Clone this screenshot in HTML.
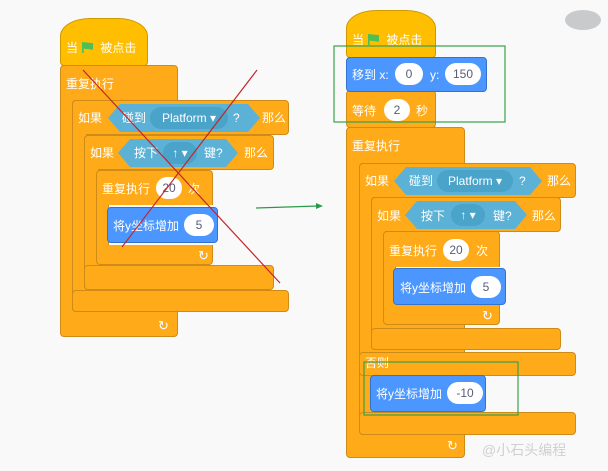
<!DOCTYPE html>
<html><head><meta charset="utf-8"><style>
*{margin:0;padding:0;box-sizing:border-box}
body{width:608px;height:471px;overflow:hidden;background:#f9f9f9;position:relative;font-family:"Liberation Sans","Noto Sans CJK SC",sans-serif;}
.o{position:absolute;background:#FFAB19;border:1px solid #CF8B17;border-radius:4px}
.b{position:absolute;background:#4C97FF;border:1px solid #3373CC;border-radius:4px}
.t{position:absolute;color:#fff;font-size:12px;white-space:nowrap;line-height:14px}
.pill{position:absolute;background:#fff;border-radius:12px;color:#575e75;font-size:12px;text-align:center;line-height:22px;height:22px}
.hex{position:absolute;background:#5CB1D6;clip-path:polygon(12px 0,calc(100% - 12px) 0,100% 50%,calc(100% - 12px) 100%,12px 100%,0 50%)}
.dd{position:absolute;background:#4aa3c9;border-radius:12px;color:#fff;font-size:12px;line-height:22px;height:22px;text-align:center}
.hat{position:absolute;background:#FFBF00;border:1px solid #CC9900;border-radius:30px 30px 4px 4px / 18px 18px 4px 4px}
.flag{display:inline-block;width:11px;height:11px;background:#4CBF56;vertical-align:-1px;margin:0 4px;clip-path:polygon(0 0,100% 10%,100% 70%,15% 60%,15% 100%,0 100%)}
.arr{position:absolute;color:#fff;font-size:13px}
</style></head><body>

<!-- LEFT SCRIPT -->
<div class="hat" style="left:60px;top:18px;width:88px;height:48px"></div>
<div class="t" style="left:66px;top:41px">当<span class="flag"></span> 被点击</div>
<div class="o" style="left:60px;top:65px;width:118px;height:272px"></div>
<div class="t" style="left:66px;top:77px">重复执行</div>
<div class="o" style="left:72px;top:100px;width:217px;height:35px"></div>
<div class="o" style="left:72px;top:100px;width:14px;height:212px;border-right:none;border-radius:4px 0 0 4px"></div>
<div class="o" style="left:72px;top:290px;width:217px;height:22px"></div>
<div class="t" style="left:78px;top:111px">如果</div>
<div class="hex" style="left:108px;top:104px;width:152px;height:28px"></div>
<div class="t" style="left:122px;top:111px">碰到</div>
<div class="dd" style="left:150px;top:107px;width:78px">Platform ▾</div>
<div class="t" style="left:233px;top:111px">?</div>
<div class="t" style="left:262px;top:111px">那么</div>
<div class="o" style="left:84px;top:135px;width:190px;height:35px"></div>
<div class="o" style="left:84px;top:135px;width:14px;height:155px;border-right:none;border-radius:4px 0 0 4px"></div>
<div class="o" style="left:84px;top:265px;width:190px;height:25px"></div>
<div class="t" style="left:90px;top:146px">如果</div>
<div class="hex" style="left:118px;top:139px;width:120px;height:28px"></div>
<div class="t" style="left:134px;top:146px">按下</div>
<div class="dd" style="left:163px;top:142px;width:34px">↑ ▾</div>
<div class="t" style="left:204px;top:146px">键?</div>
<div class="t" style="left:244px;top:146px">那么</div>
<div class="o" style="left:96px;top:170px;width:117px;height:95px"></div>
<div class="o" style="left:108px;top:205px;width:105px;height:40px;background:#f9f9f9;border:none;border-left:1px solid #CF8B17;border-radius:0"></div>
<div class="t" style="left:102px;top:182px">重复执行</div>
<div class="pill" style="left:156px;top:177px;width:26px">20</div>
<div class="t" style="left:188px;top:182px">次</div>
<div class="b" style="left:107px;top:207px;width:111px;height:36px"></div>
<div class="t" style="left:113px;top:219px">将y坐标增加</div>
<div class="pill" style="left:184px;top:214px;width:30px">5</div>
<div class="arr" style="left:198px;top:248px">↻</div>
<div class="o" style="left:72px;top:312px;width:0;height:0;border:none"></div>
<div class="arr" style="left:158px;top:318px">↻</div>

<!-- RIGHT SCRIPT -->
<div class="hat" style="left:346px;top:10px;width:90px;height:48px"></div>
<div class="t" style="left:352px;top:33px">当<span class="flag"></span> 被点击</div>
<div class="o" style="left:346px;top:90px;width:90px;height:38px"></div>
<div class="t" style="left:352px;top:104px">等待</div>
<div class="pill" style="left:384px;top:99px;width:26px">2</div>
<div class="t" style="left:416px;top:104px">秒</div>
<div class="b" style="left:346px;top:57px;width:141px;height:35px"></div>
<div class="t" style="left:352px;top:68px">移到 x:</div>
<div class="pill" style="left:395px;top:63px;width:28px">0</div>
<div class="t" style="left:430px;top:68px">y:</div>
<div class="pill" style="left:445px;top:63px;width:36px">150</div>

<div class="o" style="left:346px;top:127px;width:119px;height:331px"></div>
<div class="t" style="left:352px;top:139px">重复执行</div>
<div class="o" style="left:359px;top:163px;width:217px;height:35px"></div>
<div class="o" style="left:359px;top:163px;width:14px;height:272px;border-right:none;border-radius:4px 0 0 4px"></div>
<div class="o" style="left:359px;top:352px;width:217px;height:24px"></div>
<div class="o" style="left:359px;top:412px;width:217px;height:23px"></div>
<div class="t" style="left:365px;top:174px">如果</div>
<div class="hex" style="left:394px;top:167px;width:148px;height:28px"></div>
<div class="t" style="left:409px;top:174px">碰到</div>
<div class="dd" style="left:437px;top:170px;width:76px">Platform ▾</div>
<div class="t" style="left:519px;top:174px">?</div>
<div class="t" style="left:547px;top:174px">那么</div>
<div class="o" style="left:371px;top:197px;width:190px;height:35px"></div>
<div class="o" style="left:371px;top:197px;width:14px;height:153px;border-right:none;border-radius:4px 0 0 4px"></div>
<div class="o" style="left:371px;top:328px;width:190px;height:22px"></div>
<div class="t" style="left:377px;top:209px">如果</div>
<div class="hex" style="left:405px;top:201px;width:122px;height:28px"></div>
<div class="t" style="left:421px;top:209px">按下</div>
<div class="dd" style="left:451px;top:204px;width:34px">↑ ▾</div>
<div class="t" style="left:493px;top:209px">键?</div>
<div class="t" style="left:532px;top:209px">那么</div>
<div class="o" style="left:383px;top:231px;width:117px;height:94px"></div>
<div class="o" style="left:395px;top:267px;width:105px;height:36px;background:#f9f9f9;border:none;border-left:1px solid #CF8B17;border-radius:0"></div>
<div class="t" style="left:389px;top:244px">重复执行</div>
<div class="pill" style="left:443px;top:239px;width:26px">20</div>
<div class="t" style="left:476px;top:244px">次</div>
<div class="b" style="left:393px;top:268px;width:113px;height:37px"></div>
<div class="t" style="left:400px;top:281px">将y坐标增加</div>
<div class="pill" style="left:471px;top:276px;width:30px">5</div>
<div class="arr" style="left:482px;top:308px">↻</div>
<div class="t" style="left:365px;top:356px">否则</div>
<div class="b" style="left:370px;top:375px;width:116px;height:37px"></div>
<div class="t" style="left:376px;top:387px">将y坐标增加</div>
<div class="pill" style="left:447px;top:382px;width:36px">-10</div>
<div class="arr" style="left:447px;top:438px">↻</div>

<div style="position:absolute;left:565px;top:10px;width:36px;height:20px;border-radius:50%;background:#c8cacc"></div>
<div style="position:absolute;left:482px;top:440px;color:#d0d0d0;font-size:14px;white-space:nowrap">@小石头编程</div>

<svg width="608" height="471" style="position:absolute;left:0;top:0">
<line x1="83" y1="70" x2="280" y2="283" stroke="#c0262b" stroke-width="1.2"/>
<line x1="257" y1="70" x2="122" y2="247" stroke="#c0262b" stroke-width="1.2"/>
<line x1="256" y1="208" x2="318" y2="206" stroke="#2a9a4a" stroke-width="1.2"/>
<polygon points="323,206 316,203 316,209" fill="#2a9a4a"/>
<rect x="334" y="46" width="171" height="76" fill="none" stroke="#3aa04a" stroke-width="1.2"/>
<rect x="364" y="362" width="154" height="53" fill="none" stroke="#3aa04a" stroke-width="1.2"/>
</svg>
</body></html>
